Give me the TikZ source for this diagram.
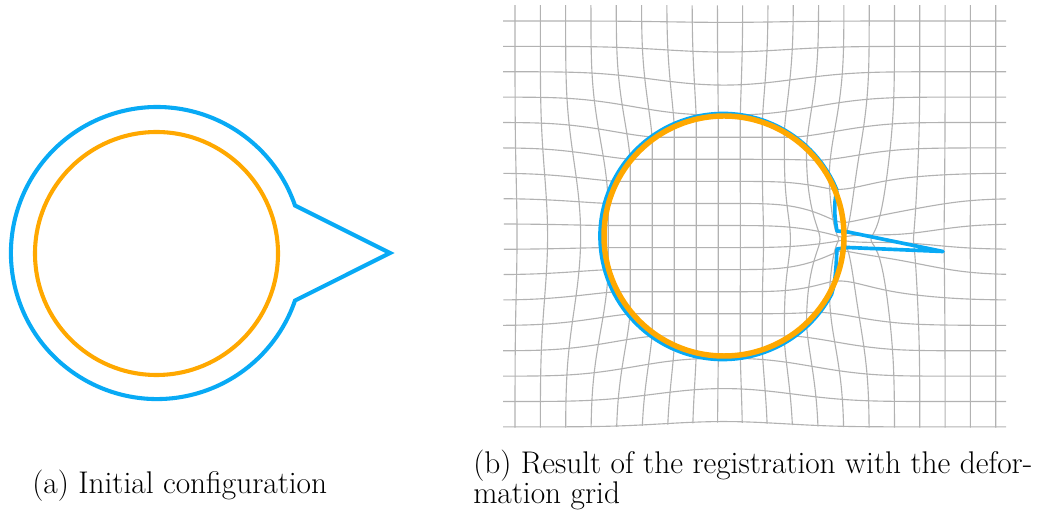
\documentclass[tikz,border=0pt]{standalone}
\usepackage{xcolor}
\usepackage{tikz}
\usetikzlibrary{calc}

\definecolor{srcblue}{RGB}{8,170,245}
\definecolor{tgtorange}{RGB}{255,168,0}

% deformation of the grid: radial pull onto the circle, pinch at the spike
\newcommand{\warpxy}[2]{%
  \pgfmathsetmacro{\wdx}{#1-7.24}%
  \pgfmathsetmacro{\wdy}{#2-2.36}%
  \pgfmathsetmacro{\wr}{max(sqrt(\wdx*\wdx+\wdy*\wdy),0.001)}%
  \pgfmathsetmacro{\wt}{(\wr-1.38)/0.48}%
  \pgfmathsetmacro{\wd}{ifthenelse(\wr<1.38, 0.13*\wr, 0.18*exp(-min(\wt*\wt,9)))}%
  \pgfmathsetmacro{\wxa}{7.24+\wdx*(1-\wd/\wr)}%
  \pgfmathsetmacro{\wya}{2.36+\wdy*(1-\wd/\wr)}%
  \pgfmathsetmacro{\wex}{\wxa-8.42}%
  \pgfmathsetmacro{\wey}{\wya-2.39}%
  \pgfmathsetmacro{\wg}{0.85*exp(-min((\wex*\wex+\wey*\wey)/0.16,9))}%
  \pgfmathsetmacro{\wxb}{\wxa-\wex*\wg}%
  \pgfmathsetmacro{\wyb}{\wya-\wey*\wg}%
  \pgfmathsetmacro{\wsy}{(\wyb-2.40)/0.40}%
  \pgfmathsetmacro{\wsx}{(\wxb-8.95)/0.60}%
  \pgfmathsetmacro{\wm}{0.7*exp(-min(\wsy*\wsy,9))*exp(-min(\wsx*\wsx,9))}%
  \global\let\wx\wxb
  \pgfmathsetmacro{\wy}{\wyb-(\wyb-2.40)*\wm}%
}

\begin{document}
\begin{tikzpicture}[x=2.5cm,y=-2.5cm,
    gridline/.style={black!30, line width=0.8pt},
    srcline/.style={srcblue, line width=2.9pt, line join=miter},
    tgtline/.style={tgtorange, line width=2.9pt},
    caption/.style={font=\fontsize{22.3}{21.5}\selectfont, inner sep=0pt}]
  \useasboundingbox (0,0) rectangle (10.48,5.13);

  % Initial configuration
  \draw[srcline] (2.95,2.055) arc[start angle=-19, end angle=-341, radius=1.46]
    -- (3.90,2.53) -- cycle;
  \draw[tgtline] (1.565,2.535) circle[radius=1.215];

  % Deformation grid
  \foreach \i in {0,...,19} {
    \pgfmathsetmacro{\gx}{5.15+0.253*\i}
    \gdef\pts{}
    \foreach \j in {0,...,70} {
      \pgfmathsetmacro{\gy}{0.05+0.0604*\j}
      \warpxy{\gx}{\gy}
      \xdef\pts{\pts (\wx,\wy)}
    }
    \draw[gridline] plot coordinates {\pts};
  }
  \foreach \j in {0,...,16} {
    \pgfmathsetmacro{\gy}{0.21+0.2537*\j}
    \gdef\pts{}
    \foreach \i in {0,...,84} {
      \pgfmathsetmacro{\gx}{5.03+0.0599*\i}
      \warpxy{\gx}{\gy}
      \xdef\pts{\pts (\wx,\wy)}
    }
    \draw[gridline] plot coordinates {\pts};
  }

  % Registered contour and target
  \draw[srcline, line width=2.6pt, line join=round] (8.370,1.904)
    .. controls (8.33,2.05) and (8.35,2.20) .. (8.37,2.31) -- (8.48,2.32)
    -- (9.43,2.515) -- (8.48,2.475) -- (8.37,2.49)
    .. controls (8.36,2.65) and (8.36,2.80) .. (8.316,2.9425)
    arc[start angle=28, end angle=338, radius=1.23];
  \draw[tgtline, line width=3.9pt] (7.24,2.36) circle[radius=1.20];

  % Captions
  \node[caption, anchor=base west] (capa) at (0.32,4.94) {(a) Initial configuration};
  \node[caption, anchor=north west, align=left] (capb) at (4.73,4.494)
    {(b) Result of the registration with the defor-\\mation grid};
\end{tikzpicture}
\end{document}
